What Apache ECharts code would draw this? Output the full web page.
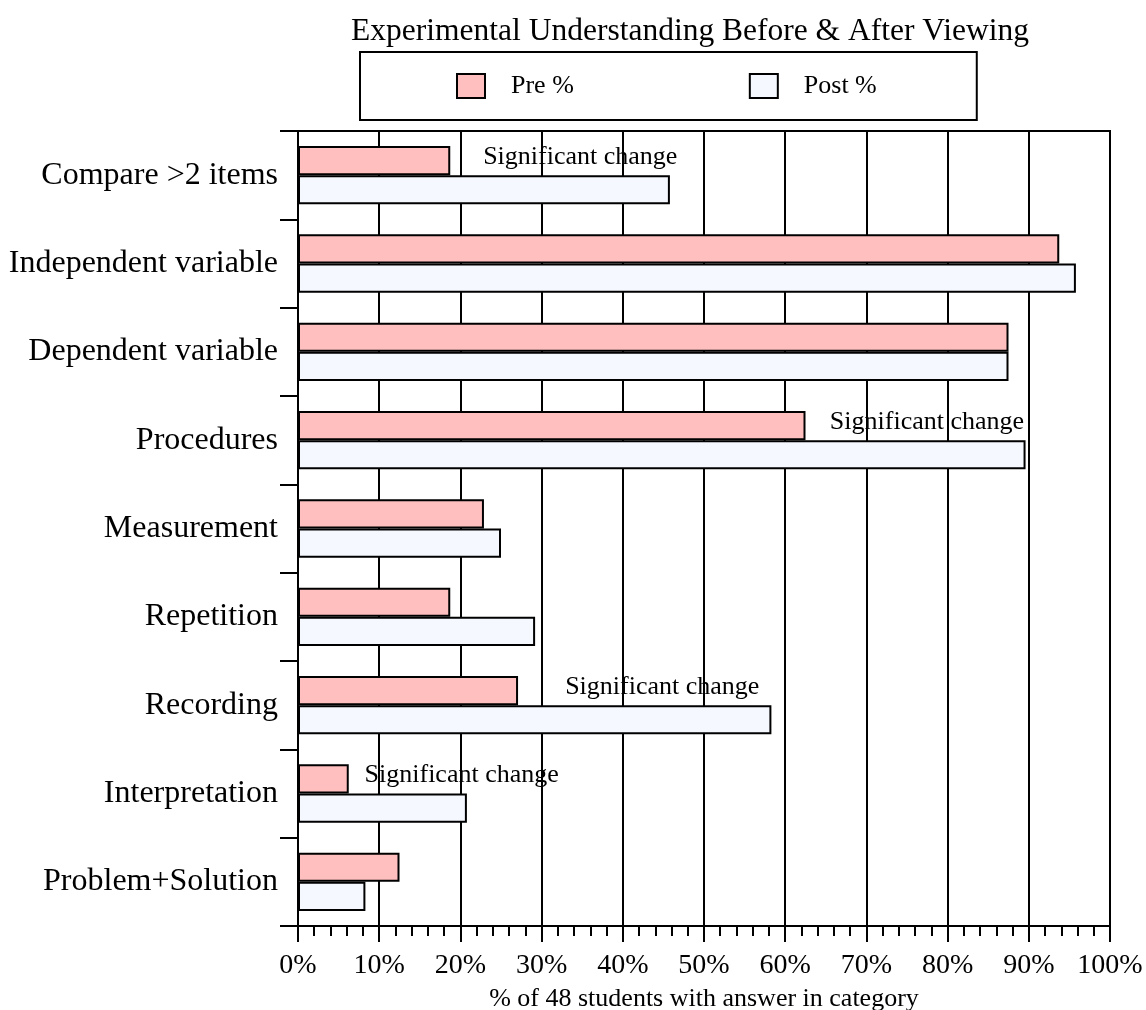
<!DOCTYPE html>
<html>
<head>
<meta charset="utf-8">
<script src="https://cdn.jsdelivr.net/npm/echarts@6/dist/echarts.min.js"></script>
<style>
  html, body { margin: 0; padding: 0; background: #fff; }
  #chart { width: 1146px; height: 1010px; }
</style>
</head>
<body>
<div id="chart"></div>
<script>
// categories, top to bottom
var categories = [
  "Compare >2 items",
  "Independent variable",
  "Dependent variable",
  "Procedures",
  "Measurement",
  "Repetition",
  "Recording",
  "Interpretation",
  "Problem+Solution"
];
// % of 48 students
var preValues = [18.75, 93.75, 87.5, 62.5, 22.9, 18.75, 27.1, 6.25, 12.5];
var postValues = [45.8, 95.8, 87.5, 89.6, 25.0, 29.2, 58.3, 20.8, 8.3];
// "Significant change" notes: [x where text starts, category]
var notes = [
  [22.8, "Compare >2 items"],
  [65.5, "Procedures"],
  [32.9, "Recording"],
  [8.2, "Interpretation"]
];

var serif = "Liberation Serif, Times New Roman, serif";

var myChart = echarts.init(document.getElementById("chart"));
myChart.setOption({
  animation: false,
  backgroundColor: "#fff",
  title: {
    text: "Experimental Understanding Before & After Viewing",
    left: 685,
    textAlign: "center",
    top: 11,
    textStyle: { fontFamily: serif, fontSize: 31.5, fontWeight: "normal", color: "#000" }
  },
  legend: {
    data: ["Pre %", "Post %"],
    icon: "rect",
    left: 360,
    top: 52,
    padding: [21, 100, 21, 96],
    itemGap: 175,
    itemWidth: 28,
    itemHeight: 24,
    borderColor: "#000",
    borderWidth: 2,
    textStyle: { fontFamily: serif, fontSize: 26, color: "#000", padding: [0, 0, 0, 21] }
  },
  grid: {
    left: 298,
    right: 36,
    top: 131,
    bottom: 84,
    outerBoundsMode: "none",
    containLabel: false,
    show: true,
    borderColor: "#000",
    borderWidth: 2
  },
  xAxis: {
    type: "value",
    min: 0,
    max: 100,
    interval: 10,
    name: "% of 48 students with answer in category",
    nameLocation: "middle",
    nameGap: 60,
    nameTextStyle: { fontFamily: serif, fontSize: 26, color: "#000" },
    axisLine: { show: true, lineStyle: { color: "#000", width: 2 } },
    axisTick: { show: true, length: 16, lineStyle: { color: "#000", width: 2 } },
    minorTick: { show: true, splitNumber: 5, length: 10, lineStyle: { color: "#000", width: 2 } },
    splitLine: { show: true, lineStyle: { color: "#000", width: 2 } },
    axisLabel: {
      formatter: "{value}%",
      margin: 26,
      fontFamily: serif,
      fontSize: 28,
      color: "#000"
    }
  },
  yAxis: {
    type: "category",
    data: categories,
    inverse: true,
    axisLine: { show: true, lineStyle: { color: "#000", width: 2 } },
    axisTick: { show: true, length: 18, lineStyle: { color: "#000", width: 2 } },
    axisLabel: { margin: 20, fontFamily: serif, fontSize: 32, color: "#000" }
  },
  series: [
    {
      name: "Pre %",
      type: "bar",
      data: preValues,
      barGap: "0%",
      barCategoryGap: "34%",
      itemStyle: { color: "#FFBFBF", borderColor: "#000", borderWidth: 2 }
    },
    {
      name: "Post %",
      type: "bar",
      data: postValues,
      barGap: "0%",
      barCategoryGap: "34%",
      itemStyle: { color: "#F5F9FF", borderColor: "#000", borderWidth: 2 }
    },
    {
      name: "notes",
      type: "scatter",
      data: notes,
      symbolSize: 0,
      silent: true,
      z: 5,
      itemStyle: { opacity: 1 },
      label: {
        show: true,
        position: "right",
        distance: 0,
        offset: [0, -18],
        formatter: "Significant change",
        fontFamily: serif,
        fontSize: 26,
        color: "#000",
        opacity: 1
      }
    }
  ]
});
</script>
</body>
</html>
